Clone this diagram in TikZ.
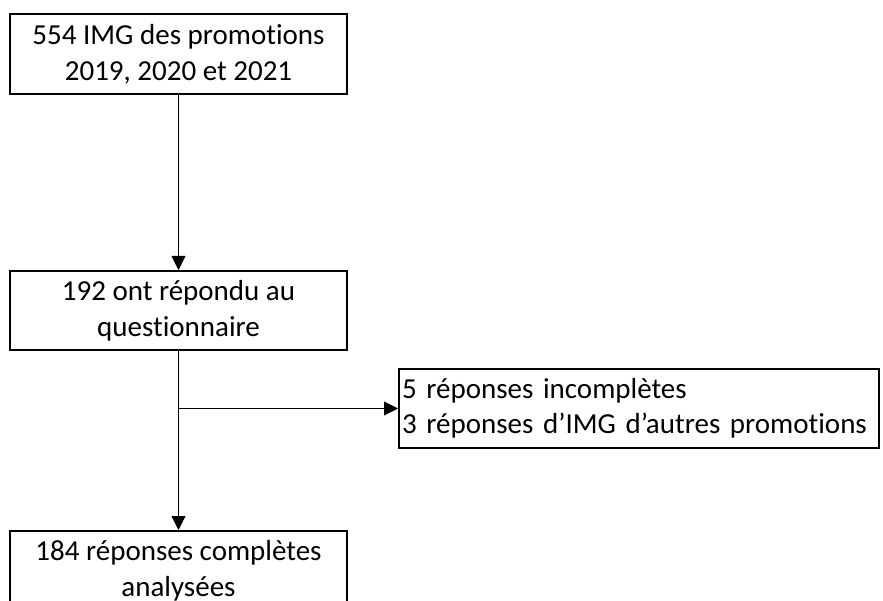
\documentclass[tikz,border=0pt]{standalone}
\usepackage{fontspec}
\setmainfont{Carlito}[RawFeature={-liga;-dlig;-clig}]
\usetikzlibrary{arrows.meta}
\tikzset{
  flowbox/.style={draw=black, line width=2pt, fill=white, align=center,
    minimum width=337pt, minimum height=80pt, inner sep=2pt,
    font=\fontsize{29}{36}\selectfont},
  sidebox/.style={draw=black, line width=2pt, fill=white, align=left,
    text width=474pt, minimum height=79pt, inner xsep=3pt, inner ysep=2pt,
    font=\fontsize{29}{35}\selectfont},
  flowarrow/.style={line width=1pt, -{Triangle[length=14pt,width=14pt]}}
}
\begin{document}
\begin{tikzpicture}[x=1pt,y=-1pt]
\clip (0,0) rectangle (883,601);
\fill[white] (0,0) rectangle (883,601);
\node[flowbox] (top) at (178.5,54) {554 IMG des promotions\\2019, 2020 et 2021};
\node[flowbox, minimum height=79pt] (mid) at (178.5,310.5) {192 ont répondu au\\questionnaire};
\node[flowbox] (bot) at (178.5,571) {184 réponses complètes\\analysées};
\node[sidebox] (excl) at (639,408.5) {5 réponses incomplètes\\3 réponses d’IMG d’autres promotions};
\coordinate (branch) at (mid.south |- excl.west);
\draw[flowarrow] (top.south) -- (mid.north);
\draw[flowarrow] (mid.south) -- (bot.north);
\draw[flowarrow] (branch) -- (excl.west);
\end{tikzpicture}
\end{document}
